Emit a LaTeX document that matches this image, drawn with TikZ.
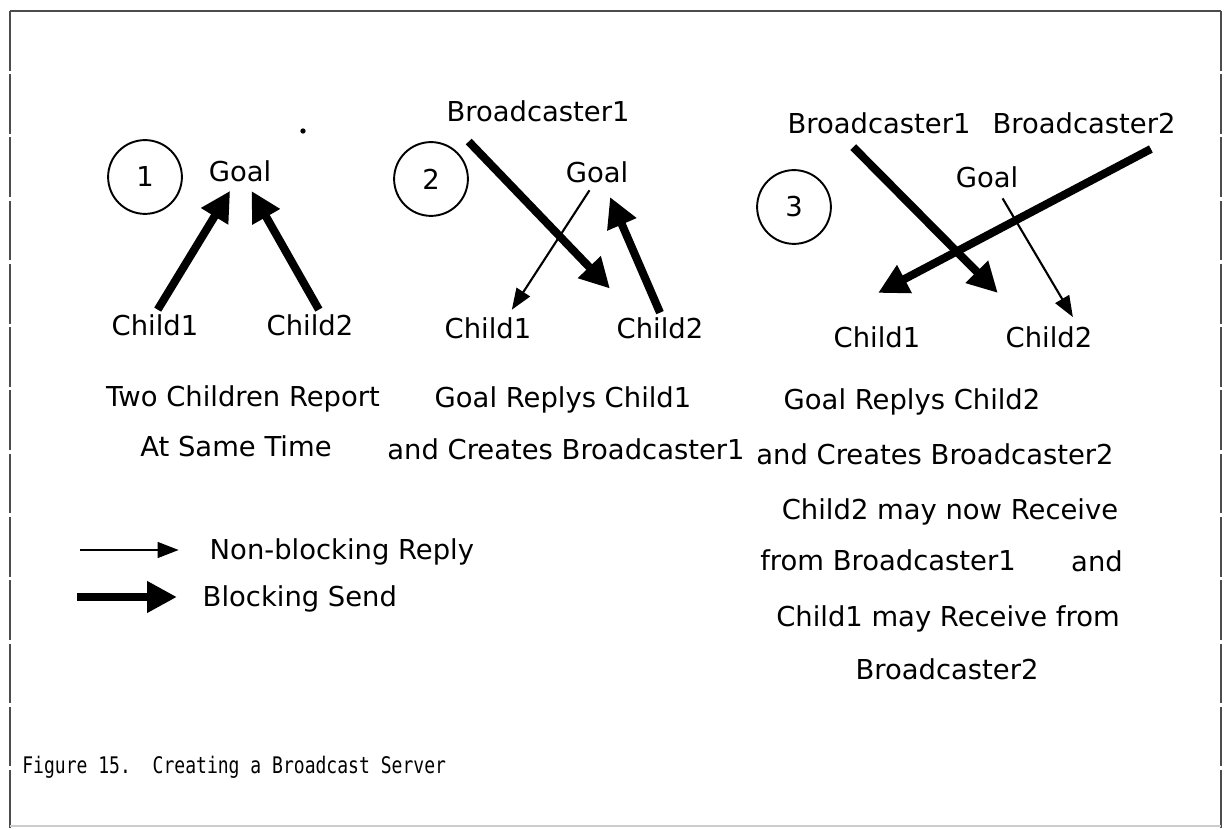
\documentclass[tikz,border=0pt]{standalone}
\usepackage{fontspec}
\setmainfont{DejaVu Sans}
\newfontfamily\capfont[FakeStretch=0.79]{DejaVu Sans Mono}
\usetikzlibrary{arrows.meta}

\begin{document}
\begin{tikzpicture}[x=0.02cm, y=-0.02cm,
    lbl/.style={font=\fontsize{15.6}{19}\selectfont, inner sep=2.5pt},
    txt/.style={lbl, text height=12pt, text depth=3.5pt},
    numcirc/.style={draw, circle, line width=1.1pt, minimum size=42pt, inner sep=0pt, font=\fontsize{15.6}{19}\selectfont},
    reply/.style={line width=1.2pt, -{Triangle[length=12pt, width=9pt]}},
    send/.style={line width=4.6pt, -{Triangle[length=17pt, width=17pt]}}]
    \useasboundingbox (0,0) rectangle (1230,830);

    % Frame
    \draw[line width=1.6pt, black!70] (10,11) -- (1221,11);
    \draw[line width=1pt, black!70, dash pattern=on 34pt off 2pt] (10,11) -- (10,828);
    \draw[line width=1pt, black!70, dash pattern=on 34pt off 2pt] (1221,11) -- (1221,828);
    \draw[line width=1.6pt, black!20] (10,826) -- (1221,826);

    % Panel 1
    \node[numcirc] (n1) at (145,177) {1};
    \node[lbl] (g1) at (240,171) {Goal};
    \node[lbl] (c1) at (155,325) {Child1};
    \node[lbl] (c2) at (310,325) {Child2};
    \draw[send, shorten >=3pt] (c1.80) -- (g1.245);
    \draw[send, shorten >=3pt] (c2.60) -- (g1.300);
    \fill (303,131) circle (1.5pt);
    \node[txt] (t1a) at (243,399) {Two Children Report};
    \node[txt] (t1b) at (236,449) {At Same Time};

    % Panel 2
    \node[numcirc] (n2) at (431,179) {2};
    \node[lbl] (b1) at (538,111) {Broadcaster1};
    \node[lbl] (g2) at (597,172) {Goal};
    \node[lbl] (d1) at (488,328) {Child1};
    \node[lbl] (d2) at (660,328) {Child2};
    \draw[send, shorten <=12pt, shorten >=19pt] ([xshift=7pt]b1.south west) -- ([xshift=12pt]d2.north west);
    \draw[reply, shorten <=2pt, shorten >=2pt] (g2.250) -- (d1.35);
    \draw[send, shorten >=6pt] (d2.north) -- (g2.300);
    \node[txt] (t2a) at (563,400) {Goal Replys Child1};
    \node[txt] (t2b) at (566,452) {and Creates Broadcaster1};

    % Panel 3
    \node[numcirc] (n3) at (794,207) {3};
    \node[lbl] (b3) at (879,123) {Broadcaster1};
    \node[lbl] (b4) at (1084,123) {Broadcaster2};
    \node[lbl] (g3) at (987,177) {Goal};
    \node[lbl] (e1) at (877,337) {Child1};
    \node[lbl] (e2) at (1049,337) {Child2};
    \draw[send, shorten <=7pt, shorten >=23pt] (b3.204) -- (e2.146);
    \draw[send, shorten <=13pt, shorten >=35pt] (b4.350) -- ([xshift=-3pt]e1.north west);
    \draw[reply, shorten <=4pt, shorten >=3pt] (g3.308) -- (e2.30);
    \node[txt] (t3a) at (912,402) {Goal Replys Child2};
    \node[txt] (t3b) at (935,457) {and Creates Broadcaster2};
    \node[txt] (t3c) at (950,512) {Child2 may now Receive};
    \node[txt] (t3d) at (888,563) {from Broadcaster1};
    \node[txt] (t3e) at (1097,564) {and};
    \node[txt] (t3f) at (948,619) {Child1 may Receive from};
    \node[txt] (t3g) at (947,672) {Broadcaster2};

    % Legend
    \coordinate (r0) at (80,550);
    \node[txt, anchor=west] (lr) at (205,552) {Non-blocking Reply};
    \draw[reply, shorten >=15pt] (r0) -- (r0 -| lr.west);
    \coordinate (s0) at (77,597);
    \node[txt, anchor=west] (ls) at (198,599) {Blocking Send};
    \draw[send, shorten >=12pt] (s0) -- (s0 -| ls.west);

    % Caption
    \node[font=\fontsize{13}{15}\capfont, anchor=west, inner sep=0pt] (cap) at (22,767) {Figure 15.\ \ Creating a Broadcast Server};
\end{tikzpicture}
\end{document}
